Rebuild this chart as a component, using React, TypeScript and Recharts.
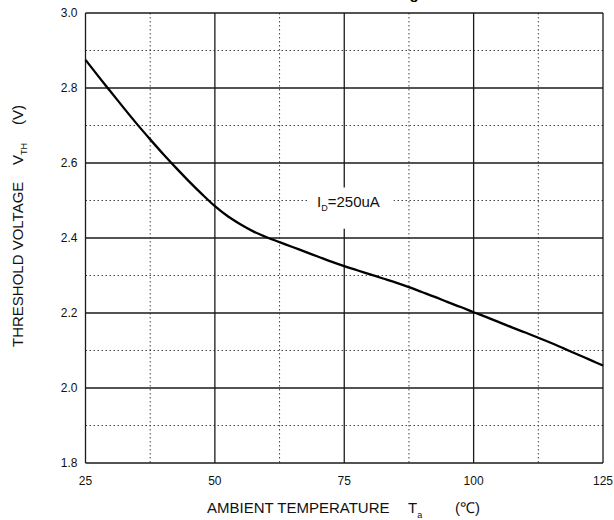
import { LineChart, Line, XAxis, YAxis, CartesianGrid, ReferenceArea } from 'recharts';

// ambient temperature (°C) and threshold voltage (V)
const temps = [
    25, 27.5, 30, 32.5, 35, 37.5, 40, 42.5, 45, 47.5, 50, 52.5, 55, 57.5, 60, 62.5, 65, 67.5, 70, 72.5,
    75, 77.5, 80, 82.5, 85, 87.5, 90, 92.5, 95, 97.5, 100, 102.5, 105, 107.5, 110, 112.5, 115, 117.5, 120, 122.5, 125
];
const vth = [
    2.875, 2.831, 2.788, 2.745, 2.703, 2.663, 2.624, 2.587, 2.551, 2.517, 2.485, 2.458, 2.436, 2.417, 2.402, 2.389, 2.376, 2.363, 2.35, 2.337,
    2.325, 2.314, 2.303, 2.292, 2.281, 2.269, 2.256, 2.243, 2.229, 2.216, 2.202, 2.189, 2.175, 2.161, 2.148, 2.134, 2.12, 2.105, 2.09, 2.075, 2.06
];

const xTicks = [25, 50, 75, 100, 125];
const xMinor = [37.5, 62.5, 87.5, 112.5];
const yTicks = [1.8, 2.0, 2.2, 2.4, 2.6, 2.8, 3.0];
const yMinor = [1.9, 2.1, 2.3, 2.5, 2.7, 2.9];

const data = temps.map((t, i) => ({ t, v: vth[i] }));

const font = 'Arial, "Liberation Sans", sans-serif';

function CurveLabel({ viewBox }: any) {
    const { x, y } = viewBox;
    return (
        <text x={x + 9} y={y + 20} fontFamily={font} fontSize={15} fill="#111">
            I
            <tspan fontSize={9} dy={4}>D</tspan>
            <tspan dy={-4}>=250uA</tspan>
        </text>
    );
}

export default function App() {
    return (
        <div style={{ position: 'absolute', left: 0, top: 0 }}>
            <LineChart width={614} height={520} data={data} margin={{ top: 13, right: 11, bottom: 27, left: 0 }}>
                <CartesianGrid
                    horizontalValues={yMinor}
                    verticalValues={xMinor}
                    stroke="#444"
                    strokeDasharray="1.5 2.5"
                    strokeWidth={1}
                />
                <CartesianGrid
                    horizontalValues={yTicks}
                    verticalValues={xTicks}
                    stroke="#1a1a1a"
                    strokeWidth={1.3}
                />
                <XAxis
                    dataKey="t"
                    type="number"
                    domain={[25, 125]}
                    ticks={xTicks}
                    height={30}
                    axisLine={false}
                    tickLine={false}
                    tickSize={8}
                    tickMargin={5}
                    tick={{ fontSize: 12, fill: '#111', fontFamily: font }}
                />
                <YAxis
                    type="number"
                    domain={[1.8, 3.0]}
                    ticks={yTicks}
                    width={85.5}
                    axisLine={false}
                    tickLine={false}
                    tickFormatter={(v: number) => v.toFixed(1)}
                    tick={{ fontSize: 12, fill: '#111', fontFamily: font }}
                />
                <ReferenceArea
                    x1={68}
                    x2={84.5}
                    y1={2.425}
                    y2={2.535}
                    fill="#fff"
                    fillOpacity={1}
                    stroke="none"
                    label={<CurveLabel />}
                />
                <Line
                    dataKey="v"
                    type="monotone"
                    stroke="#000"
                    strokeWidth={2.3}
                    dot={false}
                    isAnimationActive={false}
                />
                <text x={427} y={-1} textAnchor="end" fontFamily={font} fontSize={15} fontWeight="bold" fill="#000">
                    Threshold Voltage
                </text>
                <text fontFamily={font} fontSize={15} fill="#111" y={513}>
                    <tspan x={207}>AMBIENT TEMPERATURE</tspan>
                    <tspan x={408}>T</tspan>
                    <tspan fontSize={9} dy={5}>a</tspan>
                    <tspan x={455} dy={-5}>(℃)</tspan>
                </text>
                <text fontFamily={font} fontSize={15} fill="#111" transform="translate(23,347) rotate(-90)">
                    <tspan x={0}>THRESHOLD VOLTAGE</tspan>
                    <tspan x={182}>V</tspan>
                    <tspan fontSize={9} dy={4}>TH</tspan>
                    <tspan x={222} dy={-4}>(V)</tspan>
                </text>
            </LineChart>
        </div>
    );
}
